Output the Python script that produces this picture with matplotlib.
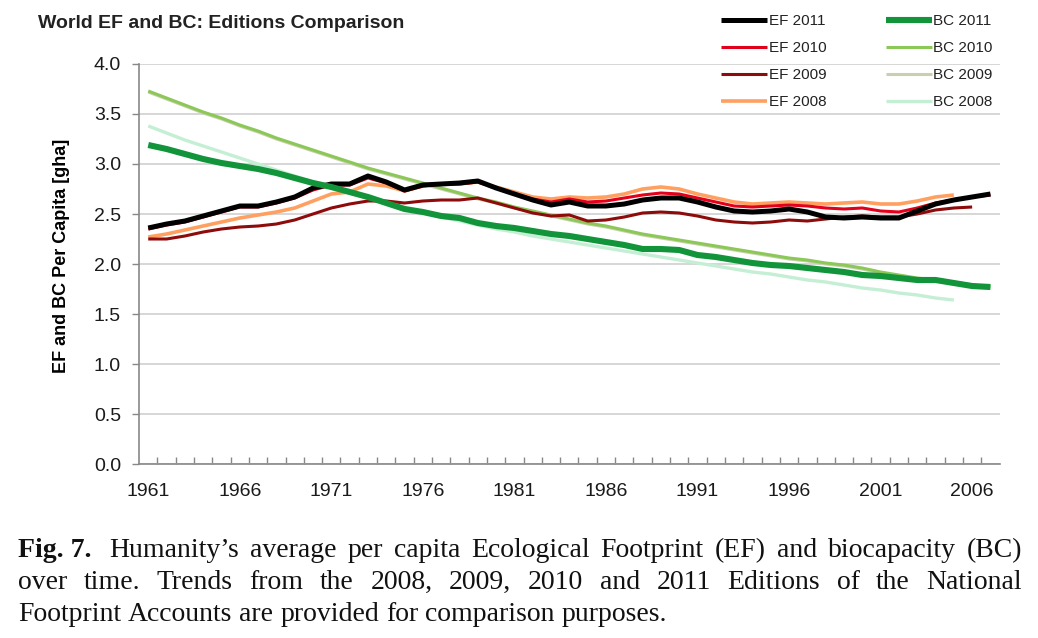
import numpy as np
import matplotlib
matplotlib.use("Agg")
import matplotlib.pyplot as plt
from matplotlib.ticker import MultipleLocator, FixedLocator

plt.rcParams['font.family'] = ['Liberation Sans', 'DejaVu Sans']

# data
years = np.arange(1961, 2008)

ef_2011 = [2.36, 2.40, 2.43, 2.48, 2.53, 2.58, 2.58, 2.62, 2.67, 2.76,
           2.80, 2.80, 2.88, 2.82, 2.74, 2.79, 2.80, 2.81, 2.83, 2.76,
           2.70, 2.64, 2.59, 2.62, 2.58, 2.58, 2.60, 2.64, 2.66, 2.66,
           2.62, 2.57, 2.53, 2.52, 2.53, 2.55, 2.52, 2.47, 2.46, 2.47,
           2.46, 2.46, 2.53, 2.60, 2.64, 2.67, 2.70]
ef_2010 = [2.35, 2.39, 2.42, 2.47, 2.52, 2.57, 2.57, 2.61, 2.66, 2.74,
           2.79, 2.79, 2.86, 2.81, 2.73, 2.78, 2.80, 2.80, 2.82, 2.76,
           2.70, 2.65, 2.62, 2.65, 2.62, 2.63, 2.66, 2.69, 2.71, 2.70,
           2.66, 2.62, 2.58, 2.57, 2.58, 2.59, 2.58, 2.56, 2.55, 2.56,
           2.53, 2.52, 2.56, 2.61, 2.64, 2.67, 2.69]
ef_2009 = [2.25, 2.25, 2.28, 2.32, 2.35, 2.37, 2.38, 2.40, 2.44, 2.50,
           2.56, 2.60, 2.63, 2.63, 2.61, 2.63, 2.64, 2.64, 2.66, 2.61,
           2.56, 2.51, 2.48, 2.49, 2.43, 2.44, 2.47, 2.51, 2.52, 2.51,
           2.48, 2.44, 2.42, 2.41, 2.42, 2.44, 2.43, 2.45, 2.47, 2.48,
           2.47, 2.47, 2.50, 2.54, 2.56, 2.57]
ef_2008 = [2.27, 2.30, 2.34, 2.38, 2.42, 2.46, 2.49, 2.52, 2.56, 2.63,
           2.70, 2.72, 2.80, 2.78, 2.73, 2.78, 2.80, 2.80, 2.82, 2.77,
           2.72, 2.67, 2.65, 2.67, 2.66, 2.67, 2.70, 2.75, 2.77, 2.75,
           2.70, 2.66, 2.62, 2.60, 2.61, 2.62, 2.61, 2.60, 2.61, 2.62,
           2.60, 2.60, 2.63, 2.67, 2.69]

bc_2011 = [3.19, 3.15, 3.10, 3.05, 3.01, 2.98, 2.95, 2.91, 2.86, 2.81,
           2.77, 2.72, 2.67, 2.61, 2.55, 2.52, 2.48, 2.46, 2.41, 2.38,
           2.36, 2.33, 2.30, 2.28, 2.25, 2.22, 2.19, 2.15, 2.15, 2.14,
           2.09, 2.07, 2.04, 2.01, 1.99, 1.98, 1.96, 1.94, 1.92, 1.89,
           1.88, 1.86, 1.84, 1.84, 1.81, 1.78, 1.77]
bc_2010 = [3.73, 3.66, 3.59, 3.52, 3.46, 3.39, 3.33, 3.26, 3.20, 3.14,
           3.08, 3.02, 2.96, 2.91, 2.86, 2.81, 2.76, 2.71, 2.66, 2.62,
           2.57, 2.53, 2.49, 2.45, 2.41, 2.38, 2.34, 2.30, 2.27, 2.24,
           2.21, 2.18, 2.15, 2.12, 2.09, 2.06, 2.04, 2.01, 1.99, 1.96,
           1.92, 1.89, 1.86, 1.84, 1.82, 1.79, 1.77]
bc_2009 = [3.72, 3.65, 3.58, 3.51, 3.45, 3.38, 3.32, 3.25, 3.19, 3.13,
           3.07, 3.01, 2.95, 2.90, 2.85, 2.80, 2.75, 2.70, 2.65, 2.61,
           2.56, 2.52, 2.48, 2.44, 2.40, 2.37, 2.33, 2.29, 2.26, 2.23,
           2.20, 2.17, 2.14, 2.11, 2.08, 2.05, 2.03, 2.00, 1.98, 1.95,
           1.91, 1.88, 1.85, 1.83, 1.81, 1.78]
bc_2008 = [3.38, 3.31, 3.24, 3.18, 3.12, 3.06, 3.00, 2.94, 2.88, 2.82,
           2.76, 2.71, 2.66, 2.61, 2.56, 2.52, 2.47, 2.43, 2.39, 2.35,
           2.32, 2.28, 2.25, 2.22, 2.19, 2.16, 2.13, 2.10, 2.07, 2.04,
           2.01, 1.98, 1.95, 1.92, 1.90, 1.87, 1.84, 1.82, 1.79, 1.76,
           1.74, 1.71, 1.69, 1.66, 1.64]

label_years = list(range(1961, 2008, 5))

fig = plt.figure(figsize=(10.38, 6.38), dpi=100)
ax = fig.add_axes([0.134, 0.2727, 0.829, 0.627])

# series: (label, values, colour, width, zorder)
series = [
    ("EF 2011", ef_2011, "#000000", 3.6, 7),
    ("EF 2010", ef_2010, "#e3001b", 2.2, 6),
    ("EF 2009", ef_2009, "#8e0b0b", 2.2, 5),
    ("EF 2008", ef_2008, "#ffa060", 2.6, 4),
    ("BC 2011", bc_2011, "#12953a", 4.4, 8),
    ("BC 2010", bc_2010, "#8cc858", 2.2, 3),
    ("BC 2009", bc_2009, "#c9cfb0", 2.2, 2),
    ("BC 2008", bc_2008, "#c4efd4", 2.4, 1),
]

handles = []
for name, vals, col, lw, z in series:
    ln, = ax.plot(years[:len(vals)], vals, color=col, lw=lw, zorder=z,
                  solid_capstyle='butt', label=name)
    handles.append(ln)

ax.set_xlim(1960.5, 2007.5)
ax.set_ylim(0, 4.0)
ax.yaxis.set_major_locator(MultipleLocator(0.5))
ax.yaxis.set_major_formatter(matplotlib.ticker.FormatStrFormatter('%.1f'))
ax.grid(axis='y', color='#d6d6d6', lw=1.4)
ax.set_axisbelow(True)

ax.set_xticks(label_years)
ax.set_xticklabels([str(y) for y in label_years])
ax.xaxis.set_minor_locator(FixedLocator(np.arange(1961.5, 2007.5, 1)))
ax.tick_params(axis='x', which='major', length=0, labelsize=14, pad=14,
               labelcolor='#1a1a1a')
ax.tick_params(axis='x', which='minor', direction='in', length=5,
               width=1, color='#888888')
ax.tick_params(axis='y', which='major', direction='out', length=5,
               width=1, color='#888888', labelsize=14, pad=8,
               labelcolor='#1a1a1a')

for s in ['top', 'right']:
    ax.spines[s].set_visible(False)
for s in ['left', 'bottom']:
    ax.spines[s].set_color('#888888')
    ax.spines[s].set_linewidth(1.2)

ax.set_ylabel("EF and BC Per Capita [gha]", fontsize=13, fontweight='bold')
ax.yaxis.set_label_coords(-0.08, 0.52)

fig.text(0.037, 1 - 24 / 638, "World EF and BC: Editions Comparison",
         fontsize=14, fontweight='bold', color='#222222', va='center',
         ha='left')

leg = fig.legend(handles=handles, ncol=2, loc='upper left',
                 bbox_to_anchor=(0.695, 1 - 14 / 638), frameon=False,
                 fontsize=11, handlelength=3.0, handletextpad=0.1,
                 columnspacing=3.9, labelspacing=0.85, borderpad=0,
                 borderaxespad=0)
for t in leg.get_texts():
    t.set_color('#222222')

# caption, justified line by line
caption_lines = [
    ["Fig. 7. ", "Humanity\u2019s", "average", "per", "capita", "Ecological",
     "Footprint", "(EF)", "and", "biocapacity", "(BC)"],
    ["over", "time.", "Trends", "from", "the", "2008,", "2009,", "2010", "and",
     "2011", "Editions", "of", "the", "National"],
    ["Footprint", "Accounts", "are", "provided", "for", "comparison",
     "purposes."],
]
cap_base = [557, 589, 621]
cap_size = 20
x0, x1 = 18, 1022
W, H = 1038, 638
renderer = fig.canvas.get_renderer()
for i, words in enumerate(caption_lines):
    texts = []
    for j, w in enumerate(words):
        bold = (i == 0 and j == 0)
        t = fig.text(0, 1 - cap_base[i] / H, w, fontsize=cap_size,
                     family=['Liberation Serif', 'DejaVu Serif'],
                     fontweight='bold' if bold else 'normal',
                     va='baseline', ha='left', color='#111111')
        texts.append(t)
    widths = [t.get_window_extent(renderer).width for t in texts]
    if i < len(caption_lines) - 1:
        gap = (x1 - x0 - sum(widths)) / (len(words) - 1)
    else:
        gap = 0.25 * cap_size * 100 / 72
    x = x0
    for t, w in zip(texts, widths):
        t.set_x(x / W)
        x += w + gap

fig.savefig("out.png", dpi=100)
